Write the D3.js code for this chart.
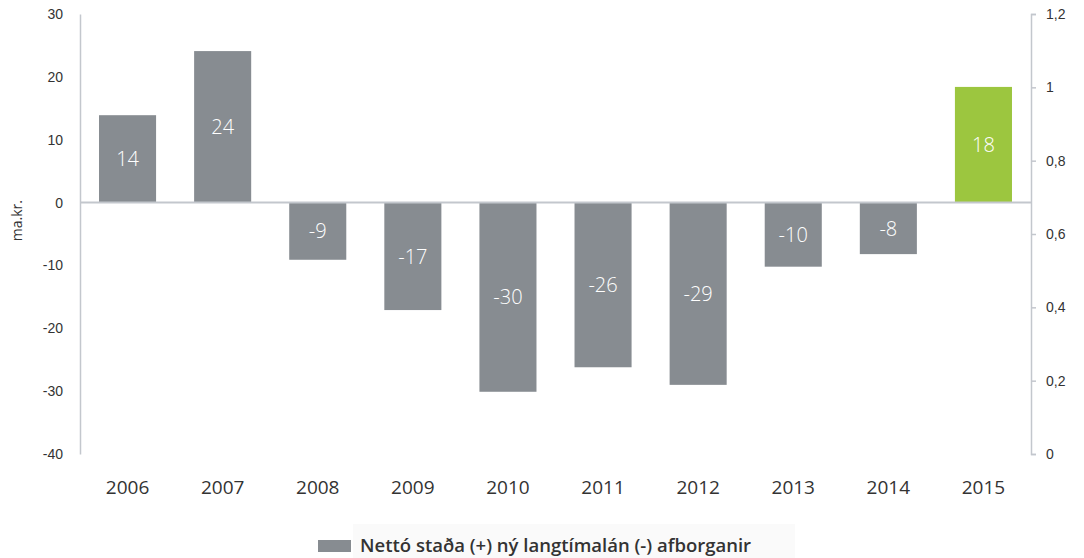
<!DOCTYPE html>
<html>
<head>
<meta charset="utf-8">
<script src="https://cdn.jsdelivr.net/npm/d3@7"></script>
<style>
  body { margin: 0; background: #fff; }
  svg { font-family: "Open Sans", sans-serif; display: block; }
</style>
</head>
<body>
<div id="chart"></div>
<script>
// values (ma.kr.)
const years = ['2006', '2007', '2008', '2009', '2010', '2011', '2012', '2013', '2014', '2015'];
const values = [13.9, 24.1, -9.1, -17.1, -30.1, -26.2, -29.0, -10.2, -8.2, 18.4];
const leftTicks = [30, 20, 10, 0, -10, -20, -30, -40];
const rightTicks = [0, 0.2, 0.4, 0.6, 0.8, 1, 1.2];
const seriesName = 'Nettó staða (+) ný langtímalán (-) afborganir';

const width = 1084, height = 558;
const margin = {top: 14, right: 53, bottom: 104, left: 80};
const innerW = width - margin.left - margin.right;
const innerH = height - margin.top - margin.bottom;

const svg = d3.select('#chart').append('svg')
  .attr('width', width)
  .attr('height', height);

const g = svg.append('g')
  .attr('transform', `translate(${margin.left},${margin.top})`);

const x = d3.scaleBand()
  .domain(years)
  .range([0, innerW])
  .paddingInner(0.4)
  .paddingOuter(0.2);

const y = d3.scaleLinear()
  .domain([-40, 30])
  .range([innerH, 0]);

const y2 = d3.scaleLinear()
  .domain([0, 1.2])
  .range([innerH, 0]);

const axisColor = '#c3c7cd';
const textColor = '#333';

// left axis
const left = g.append('g')
  .call(d3.axisLeft(y).tickValues(leftTicks).tickSize(0).tickPadding(17).tickFormat(d => String(d)));
left.select('.domain').attr('stroke', axisColor).attr('stroke-width', 1.5);
left.selectAll('text').attr('fill', textColor).style('font-size', '14px');

// right axis
const fmtRight = d => d3.format('~g')(d).replace('.', ',');
const right = g.append('g')
  .attr('transform', `translate(${innerW},0)`)
  .call(d3.axisRight(y2).tickValues(rightTicks).tickSize(5).tickSizeOuter(5).tickPadding(10).tickFormat(fmtRight));
right.select('.domain').attr('stroke', axisColor).attr('stroke-width', 1.5);
right.selectAll('line').attr('stroke', axisColor).attr('stroke-width', 1.5);
right.selectAll('text').attr('fill', textColor).style('font-size', '14px');

// bars
g.selectAll('rect.bar')
  .data(values)
  .join('rect')
  .attr('class', 'bar')
  .attr('x', (d, i) => x(years[i]))
  .attr('width', x.bandwidth())
  .attr('y', d => y(Math.max(0, d)))
  .attr('height', d => Math.abs(y(d) - y(0)))
  .attr('fill', (d, i) => years[i] === '2015' ? '#9cc63f' : '#878c91');

// zero line
g.append('line')
  .attr('x1', 0).attr('x2', innerW)
  .attr('y1', y(0)).attr('y2', y(0))
  .attr('stroke', axisColor)
  .attr('stroke-width', 2);

// bar labels
g.selectAll('text.lbl')
  .data(values)
  .join('text')
  .attr('class', 'lbl')
  .attr('x', (d, i) => x(years[i]) + x.bandwidth() / 2)
  .attr('y', d => (y(d) + y(0)) / 2)
  .attr('dy', '0.36em')
  .attr('text-anchor', 'middle')
  .attr('fill', '#fff')
  .style('font-size', '20px')
  .style('font-weight', 300)
  .text(d => String(Math.round(d)));

// x labels
g.selectAll('text.year')
  .data(years)
  .join('text')
  .attr('class', 'year')
  .attr('x', d => x(d) + x.bandwidth() / 2)
  .attr('y', innerH + 40)
  .attr('text-anchor', 'middle')
  .attr('fill', textColor)
  .style('font-size', '19px')
  .text(d => d);

// y title
svg.append('text')
  .attr('transform', `translate(22,${margin.top + y(0) + 18}) rotate(-90)`)
  .attr('text-anchor', 'middle')
  .attr('fill', textColor)
  .style('font-size', '14px')
  .text('ma.kr.');

// legend
const legend = svg.append('g').attr('transform', 'translate(318,524)');
legend.append('rect')
  .attr('x', 35).attr('y', 0)
  .attr('width', 442).attr('height', 34)
  .attr('fill', '#fafafa');
legend.append('rect')
  .attr('x', 0).attr('y', 16)
  .attr('width', 33).attr('height', 12)
  .attr('fill', '#878c91');
legend.append('text')
  .attr('x', 42).attr('y', 28)
  .attr('fill', textColor)
  .style('font-size', '18.5px')
  .style('font-weight', 600)
  .text(seriesName);
</script>
</body>
</html>
